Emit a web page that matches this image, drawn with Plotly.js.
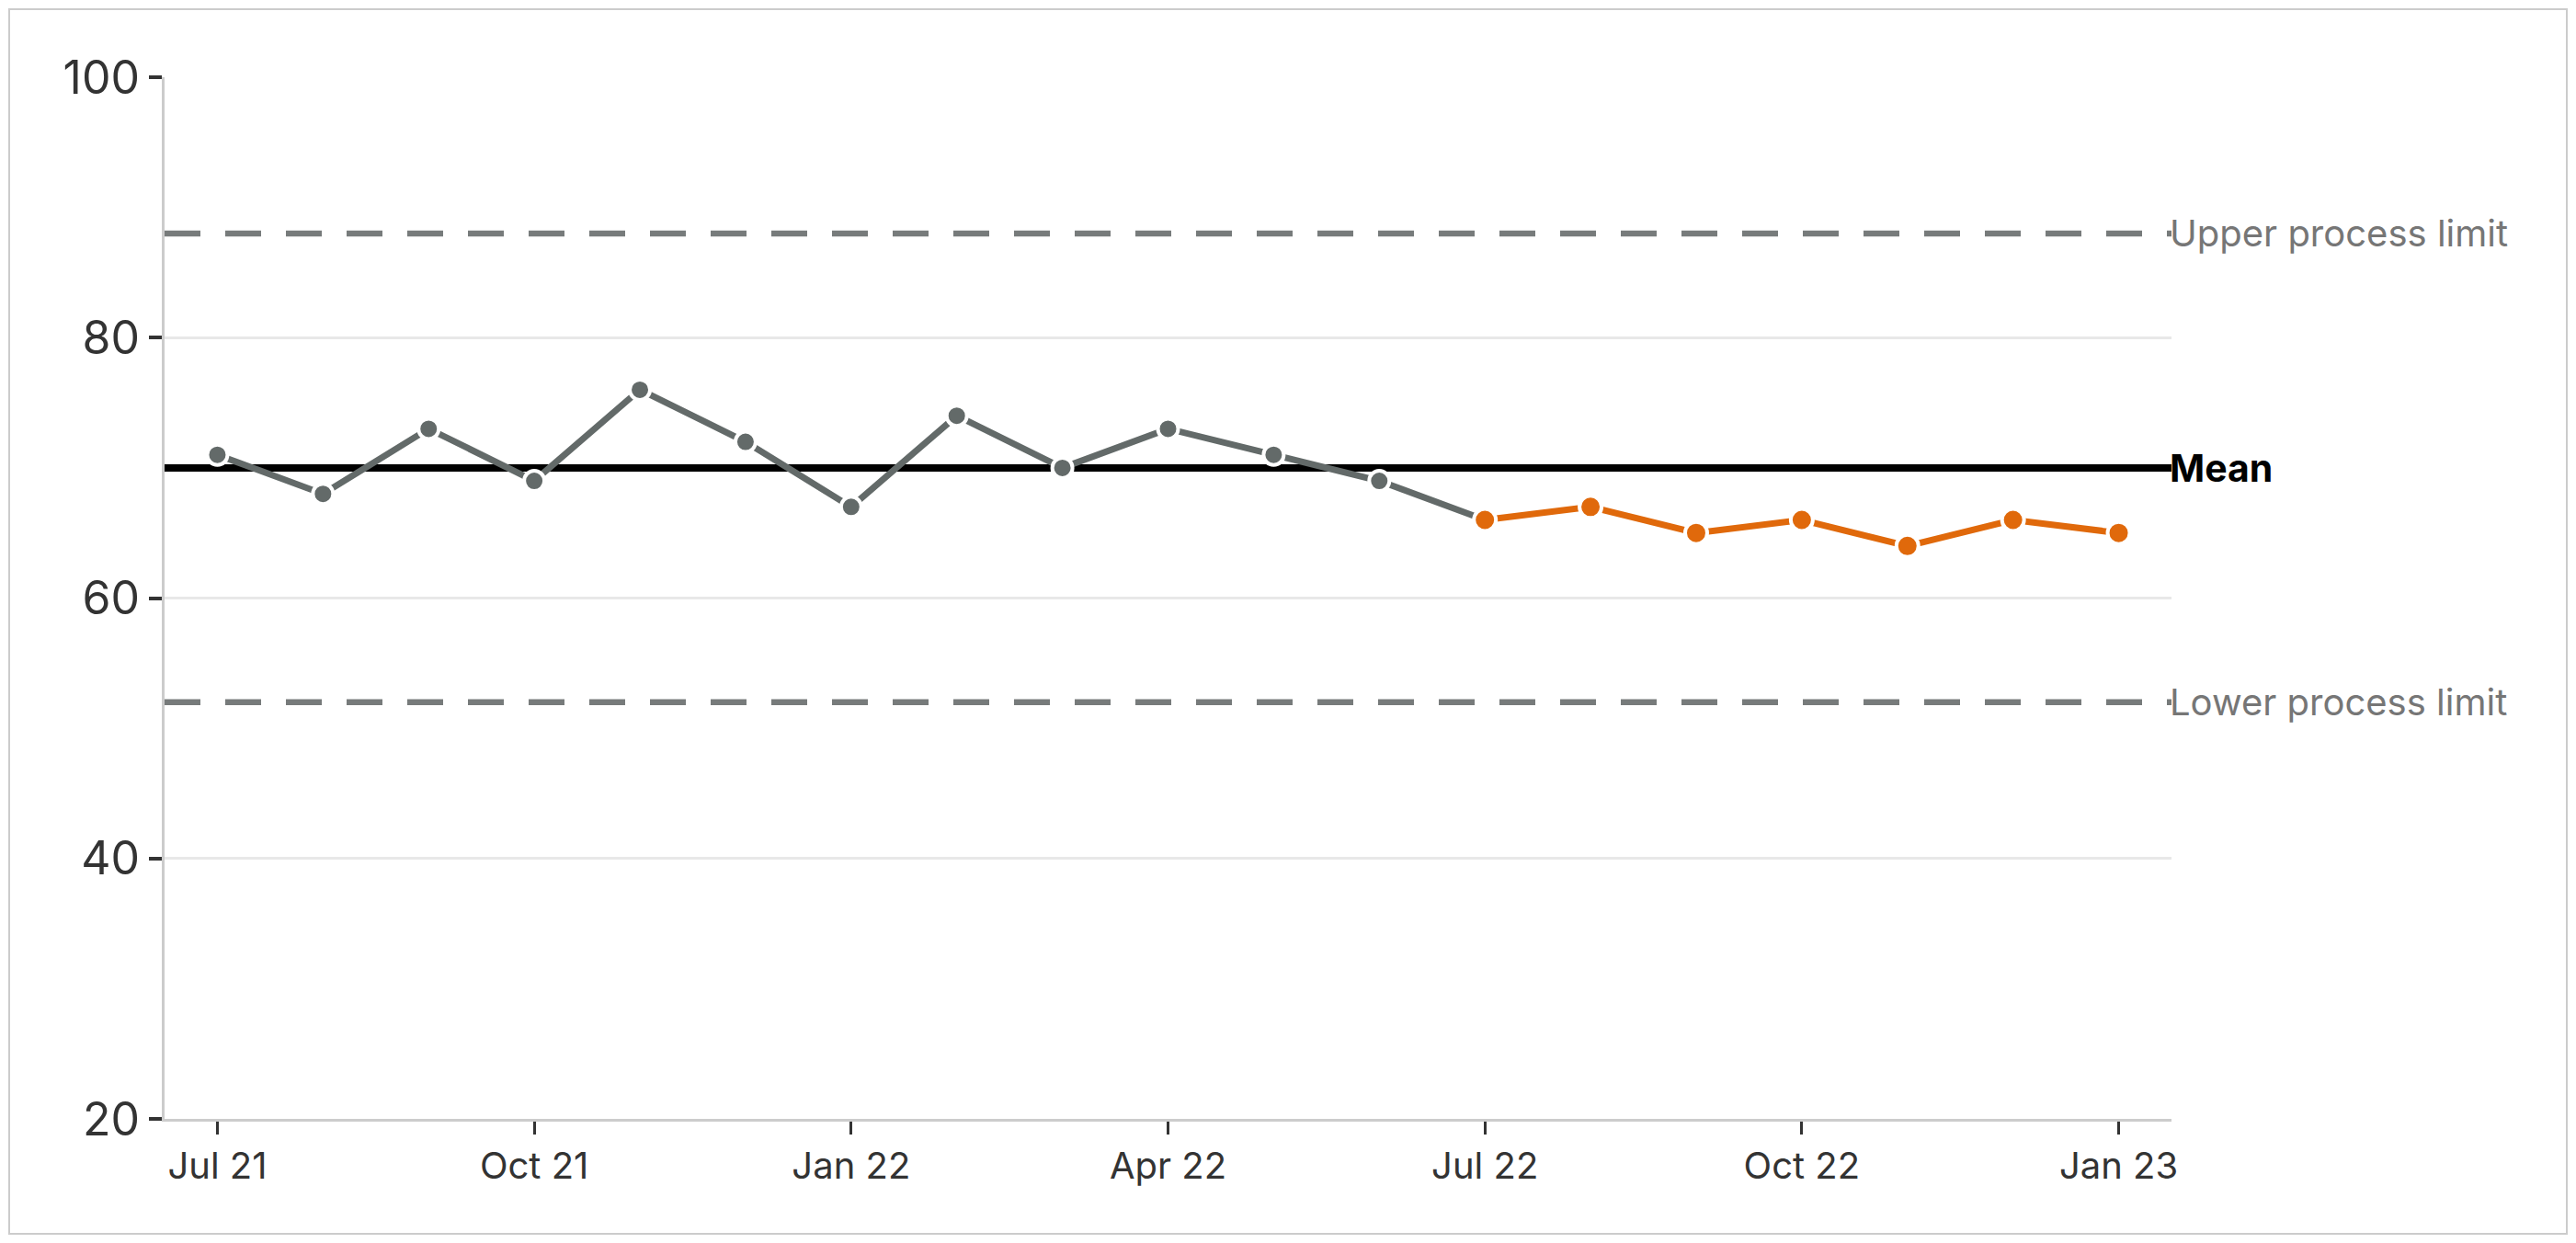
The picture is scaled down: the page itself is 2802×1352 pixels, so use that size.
<!DOCTYPE html>
<html>
<head>
<meta charset="utf-8">
<script src="https://cdn.plot.ly/plotly-3.0.1.min.js"></script>
<style>
  html, body { margin: 0; padding: 0; background: #ffffff; }
  #chart { width: 2802px; height: 1352px; }
</style>
</head>
<body>
<div id="chart"></div>
<script>
// ---- data ----
const months = ["Jul 21","Aug 21","Sep 21","Oct 21","Nov 21","Dec 21",
                "Jan 22","Feb 22","Mar 22","Apr 22","May 22","Jun 22",
                "Jul 22","Aug 22","Sep 22","Oct 22","Nov 22","Dec 22","Jan 23"];
const values = [71, 68, 73, 69, 76, 72, 67, 74, 70, 73, 71, 69,
                66, 67, 65, 66, 64, 66, 65];
const recentStart = "Jul 22";            // first month of the highlighted run
const tickLabels = ["Jul 21","Oct 21","Jan 22","Apr 22","Jul 22","Oct 22","Jan 23"];
const meanValue = 70;
const upperLimit = 88;
const lowerLimit = 52;
const upperLabel = "Upper process limit";
const lowerLabel = "Lower process limit";
const meanLabel = "Mean";

// ---- build ----
const split = months.indexOf(recentStart);
const baseX = months.slice(0, split + 1);
const baseY = values.slice(0, split + 1);
const recX = months.slice(split);
const recY = values.slice(split);

const FONT = "Inter, 'Noto Sans', sans-serif";
const GREY = "#636a69";
const ORANGE = "#e0690b";
const LIMIT = "#777b7b";

const traces = [
  {
    x: baseX, y: baseY, type: "scatter", mode: "lines+markers",
    line: { color: GREY, width: 7 },
    marker: { color: GREY, size: 22, line: { color: "#ffffff", width: 4 } },
    hoverinfo: "x+y"
  },
  {
    x: recX, y: recY, type: "scatter", mode: "lines+markers",
    line: { color: ORANGE, width: 7 },
    marker: { color: ORANGE, size: 24, line: { color: "#ffffff", width: 4 } },
    hoverinfo: "x+y"
  }
];

const W = 2802, H = 1352;
const M = { l: 179, r: 440, t: 84, b: 135 };
const pw = W - M.l - M.r, ph = H - M.t - M.b;
// outer frame in paper coordinates
const fx0 = (10 - M.l) / pw, fx1 = (W - 10 - M.l) / pw;
const frameBottom = -(M.b - 10) / ph;
const frameTop = 1 + (M.t - 10) / ph;

const layout = {
  width: W, height: H,
  margin: M,
  paper_bgcolor: "#ffffff",
  plot_bgcolor: "#ffffff",
  showlegend: false,
  font: { family: FONT, color: "#333333" },
  xaxis: {
    type: "category",
    categoryorder: "array",
    categoryarray: months,
    range: [-0.5, months.length - 0.5],
    tickmode: "array",
    tickvals: tickLabels,
    ticktext: tickLabels,
    showgrid: false,
    zeroline: false,
    showline: true, linecolor: "#cccccc", linewidth: 3,
    ticks: "outside", ticklen: 14, tickwidth: 3, tickcolor: "#333333",
    tickfont: { family: FONT, size: 40, color: "#333333" },
    fixedrange: true
  },
  yaxis: {
    range: [20, 100],
    tickmode: "array",
    tickvals: [20, 40, 60, 80, 100],
    showgrid: true, gridcolor: "#e8e8e8", gridwidth: 3,
    zeroline: false,
    showline: true, linecolor: "#cccccc", linewidth: 3,
    ticks: "outside", ticklen: 14, tickwidth: 4, tickcolor: "#333333",
    tickfont: { family: FONT, size: 50, color: "#333333" },
    fixedrange: true
  },
  shapes: [
    { type: "line", xref: "paper", yref: "y", x0: 0, x1: 1, y0: upperLimit, y1: upperLimit,
      line: { color: LIMIT, width: 6.5, dash: "39px,27px" }, layer: "below" },
    { type: "line", xref: "paper", yref: "y", x0: 0, x1: 1, y0: lowerLimit, y1: lowerLimit,
      line: { color: LIMIT, width: 6.5, dash: "39px,27px" }, layer: "below" },
    { type: "line", xref: "paper", yref: "y", x0: 0, x1: 1, y0: meanValue, y1: meanValue,
      line: { color: "#000000", width: 8 }, layer: "below" },
    { type: "rect", xref: "paper", yref: "paper", x0: fx0, x1: fx1, y0: frameBottom, y1: frameTop,
      line: { color: "#cccccc", width: 2 }, fillcolor: "rgba(0,0,0,0)", layer: "below" }
  ],
  annotations: [
    { xref: "paper", yref: "y", x: 1, y: upperLimit, xanchor: "left", yanchor: "middle",
      text: upperLabel, showarrow: false, xshift: -4,
      font: { family: FONT, size: 40, color: "#767676" } },
    { xref: "paper", yref: "y", x: 1, y: lowerLimit, xanchor: "left", yanchor: "middle",
      text: lowerLabel, showarrow: false, xshift: -4,
      font: { family: FONT, size: 40, color: "#767676" } },
    { xref: "paper", yref: "y", x: 1, y: meanValue, xanchor: "left", yanchor: "middle",
      text: "<b>" + meanLabel + "</b>", showarrow: false, xshift: -4,
      font: { family: FONT, size: 41, color: "#000000" } }
  ]
};

Plotly.newPlot("chart", traces, layout, { displayModeBar: false, staticPlot: true });
</script>
</body>
</html>
